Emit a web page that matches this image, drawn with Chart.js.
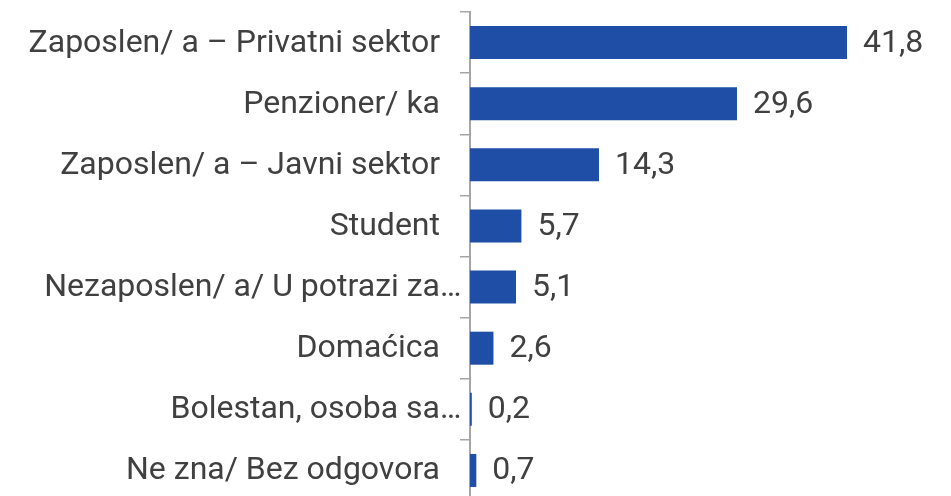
<!DOCTYPE html>
<html>
<head>
<meta charset="utf-8">
<script src="https://cdn.jsdelivr.net/npm/chart.js@4"></script>
<style>
  html, body { margin: 0; padding: 0; background: #fff; overflow: hidden; }
  #wrap { width: 951px; height: 501px; }
</style>
</head>
<body>
<div id="wrap"><canvas id="chart"></canvas></div>
<script>
const labels = ['Zaposlen/ a – Privatni sektor', 'Penzioner/ ka', 'Zaposlen/ a – Javni sektor', 'Student',
    'Nezaposlen/ a/ U potrazi za…', 'Domaćica', 'Bolestan, osoba sa…', 'Ne zna/ Bez odgovora'];
const values = [41.8, 29.6, 14.3, 5.7, 5.1, 2.6, 0.2, 0.7];

const textColor = '#404040';
const barColor = '#1f4ea6';
const axisColor = '#a6a6a6';
const font = '32px Roboto';

// category names on the left + values next to the bars
const textPlugin = {
    id: 'textPlugin',
    afterDatasetsDraw(chart) {
        const ctx = chart.ctx;
        const yScale = chart.scales.y;
        const meta = chart.getDatasetMeta(0);
        ctx.save();
        ctx.font = font;
        ctx.fillStyle = textColor;
        ctx.textBaseline = 'middle';
        const right = yScale.right - 30;
        labels.forEach((lab, i) => {
            const y = yScale.getPixelForTick(i) + 1;
            ctx.textAlign = 'left';
            // truncated names: the ellipsis hangs past the right edge
            const base = lab.endsWith('…') ? lab.slice(0, -1) : lab;
            ctx.fillText(lab, right - ctx.measureText(base).width, y);
        });
        meta.data.forEach((bar, i) => {
            const txt = values[i].toFixed(1).replace('.', ',');
            ctx.textAlign = 'left';
            ctx.fillText(txt, bar.x + 16, bar.y + 1);
        });
        ctx.restore();
    }
};

const ctx = document.getElementById('chart').getContext('2d');
const chart = new Chart(ctx, {
    type: 'bar',
    data: {
        labels: labels,
        datasets: [{
            data: values,
            backgroundColor: barColor,
            borderWidth: 0,
            barPercentage: 0.54,
            categoryPercentage: 1
        }]
    },
    options: {
        indexAxis: 'y',
        responsive: true,
        maintainAspectRatio: false,
        animation: false,
        layout: { padding: { top: 12, right: 30, left: 0, bottom: 0 } },
        plugins: { legend: { display: false }, tooltip: { enabled: false } },
        scales: {
            x: { display: false, min: 0, max: 50 },
            y: {
                afterFit(scale) {
                    scale.width = 470;
                    scale.paddingTop = 0;
                    scale.paddingBottom = 0;
                },
                grid: {
                    drawOnChartArea: false,
                    drawTicks: true,
                    tickLength: 10,
                    color: axisColor,
                    lineWidth: 1.5,
                    offset: true
                },
                border: { color: axisColor, width: 2 },
                ticks: { display: false }
            }
        }
    },
    plugins: [textPlugin]
});
</script>
</body>
</html>
